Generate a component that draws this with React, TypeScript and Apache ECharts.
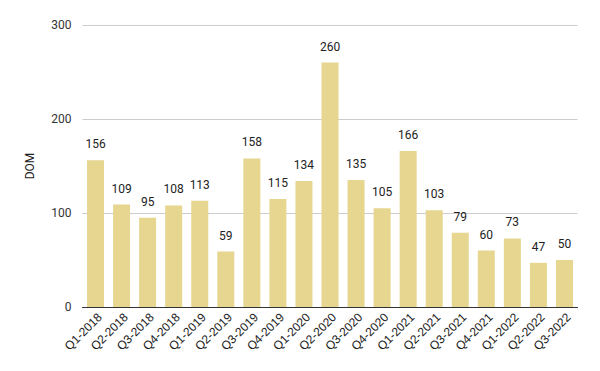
import React, { useEffect, useRef } from "react";
import * as echarts from "echarts";

const categories = [
  "Q1-2018", "Q2-2018", "Q3-2018", "Q4-2018",
  "Q1-2019", "Q2-2019", "Q3-2019", "Q4-2019",
  "Q1-2020", "Q2-2020", "Q3-2020", "Q4-2020",
  "Q1-2021", "Q2-2021", "Q3-2021", "Q4-2021",
  "Q1-2022", "Q2-2022", "Q3-2022",
];
const domValues = [156, 109, 95, 108, 113, 59, 158, 115, 134, 260, 135, 105, 166, 103, 79, 60, 73, 47, 50];
const yTicks = { min: 0, max: 300, interval: 100 };

export default function App() {
  const ref = useRef<HTMLDivElement>(null);
  useEffect(() => {
    const chart = echarts.init(ref.current!, null, { renderer: "svg" });
    chart.setOption({
      animation: false,
      grid: { left: 82.5, right: 22.5, top: 25, bottom: 64 },
      xAxis: {
        type: "category",
        data: categories,
        axisTick: { show: false },
        axisLine: { lineStyle: { color: "#333", width: 1 } },
        axisLabel: {
          rotate: 45,
          interval: 0,
          fontSize: 12,
          color: "#222",
          fontFamily: "Arial, Liberation Sans",
          margin: 4,
          verticalAlign: "top",
        },
      },
      yAxis: {
        type: "value",
        min: yTicks.min,
        max: yTicks.max,
        interval: yTicks.interval,
        name: "DOM",
        nameLocation: "middle",
        nameGap: 47,
        nameTextStyle: { fontSize: 12, color: "#222", fontFamily: "Roboto" },
        axisLabel: { fontSize: 12, color: "#333", fontFamily: "Roboto", margin: 11 },
        axisLine: { show: false },
        axisTick: { show: false },
        splitLine: { lineStyle: { color: "#cccccc" } },
      },
      series: [
        {
          type: "bar",
          data: domValues,
          barWidth: 17,
          itemStyle: { color: "#e6d690" },
          label: {
            show: true,
            position: "top",
            distance: 10,
            fontSize: 12,
            color: "#222",
            fontFamily: "Roboto",
          },
        },
      ],
    });
    return () => chart.dispose();
  }, []);
  return <div ref={ref} style={{ width: 600, height: 371, position: "absolute", left: 0, top: 0 }} />;
}
